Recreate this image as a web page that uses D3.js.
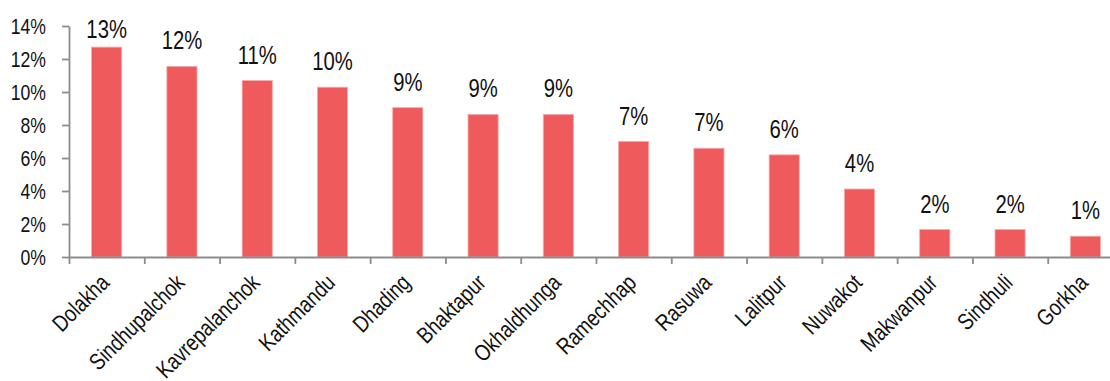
<!DOCTYPE html>
<head>
  <title>Share by district</title>
</head>
<style>
html, body {
  margin: 0;
  padding: 0;
  background: #ffffff;
}
svg text {
  font-family: "Liberation Sans", Arial, sans-serif;
  fill: #111111;
}
.axis path, .axis line {
  stroke: #8c8c8c;
  stroke-width: 1.8px;
}
.bar {
  fill: #ef5a5c;
  stroke: #f6a8a8;
  stroke-width: 0.8px;
}
</style>

<svg width="1110" height="381"></svg>

<script src="https://d3js.org/d3.v7.min.js"></script>
<script>
// districts and their share
var districts = ["Dolakha", "Sindhupalchok", "Kavrepalanchok", "Kathmandu", "Dhading",
                 "Bhaktapur", "Okhaldhunga", "Ramechhap", "Rasuwa", "Lalitpur",
                 "Nuwakot", "Makwanpur", "Sindhuli", "Gorkha"];
var shares = [0.1272, 0.1155, 0.1069, 0.1029, 0.0905, 0.0864, 0.0864, 0.0700,
              0.0659, 0.0619, 0.0412, 0.0166, 0.0166, 0.0126];
var yTicks = [0, 0.02, 0.04, 0.06, 0.08, 0.10, 0.12, 0.14];

var svg = d3.select("svg");

// plot area (right edge runs past the window, as in the original)
var plot = {left: 69, right: 1123, top: 26, bottom: 257};

var x = d3.scaleBand()
          .domain(districts)
          .range([plot.left, plot.right])
          .paddingInner(0.6)
          .paddingOuter(0.3);

var y = d3.scaleLinear()
          .domain([0, 0.14])
          .range([plot.bottom, plot.top]);

// category boundaries, used for the x tick marks
var xEdges = d3.scaleLinear()
               .domain([0, districts.length])
               .range([plot.left, plot.right]);

var pct = d3.format(".0%");

// bars
svg.append("g")
  .selectAll("rect")
  .data(districts)
  .enter().append("rect")
    .attr("class", "bar")
    .attr("x", function(d) { return x(d); })
    .attr("width", x.bandwidth())
    .attr("y", function(d, i) { return y(shares[i]); })
    .attr("height", function(d, i) { return plot.bottom - y(shares[i]); });

// value labels; kept inside the plot area like Excel does
svg.append("g")
  .selectAll("text")
  .data(districts)
  .enter().append("text")
    .attr("text-anchor", "middle")
    .attr("font-size", 26)
    .attr("transform", function(d, i) {
      var ly = Math.max(y(shares[i]) - 17, 38);
      return "translate(" + (x(d) + x.bandwidth() / 2) + "," + ly + ") scale(0.78,1)";
    })
    .text(function(d, i) { return pct(shares[i]); });

// y axis
var yAxis = svg.append("g")
  .attr("class", "axis")
  .attr("transform", "translate(" + plot.left + ",0)")
  .call(d3.axisLeft(y).tickValues(yTicks).tickFormat(pct).tickSize(7).tickSizeOuter(0));

yAxis.selectAll("text")
  .attr("x", null)
  .attr("dy", "0.36em")
  .attr("font-size", 22)
  .attr("transform", "translate(-23,0) scale(0.8,1)");

// x axis: ticks between categories
svg.append("g")
  .attr("class", "axis")
  .attr("transform", "translate(0," + plot.bottom + ")")
  .call(d3.axisBottom(xEdges).ticks(districts.length).tickFormat("").tickSize(7).tickSizeOuter(0));

// x labels, rotated
svg.append("g")
  .selectAll("text")
  .data(districts)
  .enter().append("text")
    .attr("text-anchor", "end")
    .attr("font-size", 23)
    .attr("transform", function(d) {
      return "translate(" + (x(d) + x.bandwidth() / 2 + 4) + ",284) rotate(-45) scale(0.82,1)";
    })
    .text(function(d) { return d; });
</script>
